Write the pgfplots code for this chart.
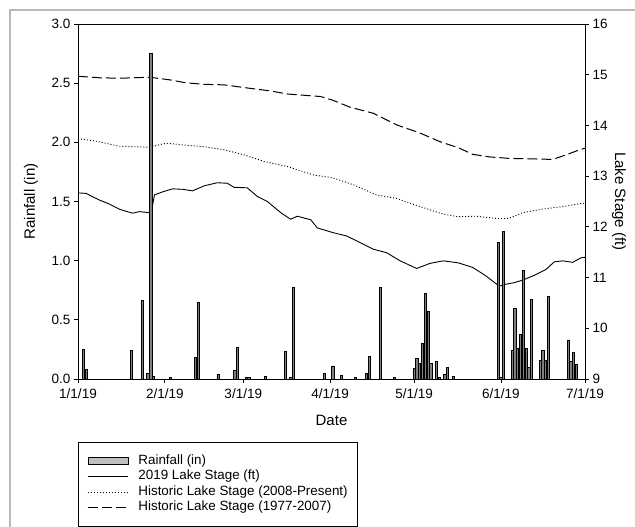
\documentclass[border=0pt]{standalone}
\usepackage{pgfplots}
\pgfplotsset{compat=1.18}
\usepackage{pgfplotstable}
\usepackage{fontspec}
\setmainfont{Liberation Sans}

\pgfplotstableread{
day rain
2 0.25
3 0.08
19 0.24
23 0.66
25 0.05
26 2.75
27 0.02
33 0.01
42 0.18
43 0.65
50 0.04
56 0.07
57 0.27
60 0.01
61 0.01
67 0.02
74 0.23
76 0.01
77 0.77
88 0.05
91 0.11
94 0.03
99 0.01
103 0.05
104 0.19
108 0.77
113 0.01
120 0.09
121 0.17
122 0.13
123 0.30
124 0.72
125 0.57
126 0.13
128 0.15
129 0.01
131 0.04
132 0.10
134 0.02
150 1.15
151 0.01
152 1.245
155 0.24
156 0.60
157 0.26
158 0.38
159 0.92
160 0.26
161 0.10
162 0.67
165 0.155
166 0.245
167 0.155
168 0.70
175 0.33
176 0.15
177 0.225
178 0.125
}\rain

\pgfplotstableread{
day stage
0 12.67
2.9 12.66
5 12.60
7.6 12.53
11.2 12.45
14.7 12.35
17 12.31
19.5 12.27
21.9 12.30
25.5 12.28
26.2 12.30
27.3 12.63
30.2 12.69
33.8 12.75
37.4 12.74
40.9 12.71
45.1 12.81
49.7 12.87
53.3 12.86
55.7 12.78
60.4 12.77
64 12.60
67.6 12.50
72.4 12.28
75.9 12.15
78.3 12.21
83.1 12.14
85.4 11.98
90.8 11.89
95.9 11.82
100.7 11.69
105.4 11.56
110.2 11.49
115 11.33
120.9 11.18
125.7 11.28
130.4 11.33
135.8 11.29
140.9 11.20
145.7 11.03
150.4 10.83
152.8 10.87
155.8 10.90
158.7 10.95
162.3 11.03
167.1 11.16
170 11.31
173 11.33
176.6 11.30
179.6 11.39
181 11.40
}\stagenew

\pgfplotstableread{
day stage
0 13.74
6.4 13.69
14.7 13.59
25.5 13.57
31.4 13.65
38.6 13.61
45.1 13.58
52.1 13.52
59.3 13.42
66.4 13.29
74.7 13.19
84.3 13.02
90.8 12.97
98.3 12.83
106.6 12.63
113.8 12.56
122.1 12.40
130.4 12.25
135.8 12.20
142.1 12.21
150.4 12.16
154 12.17
158.7 12.28
165.9 12.35
173 12.40
179.6 12.46
181 12.47
}\stagerecent

\pgfplotstableread{
day stage
0 14.97
7.6 14.94
14.7 14.93
25.5 14.95
32.6 14.90
38.6 14.84
45.1 14.81
52.1 14.80
61.6 14.73
68.8 14.68
74.7 14.62
86.6 14.57
90.8 14.50
97.1 14.36
105.4 14.24
113.8 14.01
122.1 13.85
129.2 13.68
135.8 13.56
140.9 13.43
146.8 13.38
154 13.35
162.3 13.34
169.5 13.33
174.2 13.42
179.6 13.53
181 13.55
}\stageold

\pgfplotsset{
  common/.style={
    scale only axis, width=507pt, height=355pt,
    at={(78pt,-379pt)}, anchor=south west,
    xmin=0, xmax=181,
    tick align=outside, major tick length=4pt,
    axis line style={line width=0.8pt},
    tick style={line width=0.8pt, black},
    tick label style={font=\fontsize{13.5}{16}\selectfont},
    /pgf/number format/assume math mode=true,
  }
}

\begin{document}
\begin{tikzpicture}[x=1pt,y=1pt]
\useasboundingbox (0,0) rectangle (635,-527);
\draw[gray!55, line width=1.5pt] (10,-530) -- (10,-10) -- (640,-10);

% right axis: lake stage
\begin{axis}[common,
  ymin=9, ymax=16, ytick={9,10,...,16},
  axis y line*=right, axis x line=none,
  ylabel={Lake Stage (ft)},
  every axis y label/.style={at={(axis description cs:1,0.5)}, rotate=-90, anchor=center, yshift=34pt, font=\fontsize{15}{18}\selectfont},
]
\addplot[black, line width=0.9pt] table[x=day,y=stage] {\stagenew};
\addplot[black, line width=0.9pt, dash pattern=on 1pt off 2pt] table[x=day,y=stage] {\stagerecent};
\addplot[black, line width=1pt, dash pattern=on 10pt off 4pt] table[x=day,y=stage] {\stageold};
\end{axis}

% left axis: rainfall
\begin{axis}[common,
  ymin=0, ymax=3, ytick={0,0.5,...,3},
  yticklabel style={/pgf/number format/.cd, fixed, fixed zerofill, precision=1},
  xtick={0,31,59,90,120,151,181},
  xticklabels={1/1/19,2/1/19,3/1/19,4/1/19,5/1/19,6/1/19,7/1/19},
  xticklabel style={yshift=-2pt},
  xtick pos=left, ytick pos=left,
  ylabel={Rainfall (in)}, xlabel={Date},
  every axis y label/.style={at={(axis description cs:0,0.5)}, rotate=90, anchor=center, yshift=47pt, font=\fontsize{15}{18}\selectfont},
  every axis x label/.style={at={(axis description cs:0.5,0)}, anchor=center, yshift=-41pt, font=\fontsize{15}{18}\selectfont},
  legend cell align=left,
  legend image code/.code={\draw[#1] (0pt,0pt) -- (40pt,0pt);},
  legend style={at={(0,0)}, anchor=north west, yshift=-63pt,
    draw=black, line width=0.8pt,
    font=\fontsize{13.4}{15.6}\selectfont,
    inner xsep=9pt, inner ysep=11pt, row sep=0pt,
    /tikz/every odd column/.append style={column sep=9pt},
    nodes={inner sep=1pt, text height=10pt, text depth=3.5pt}},
]
\addplot[ybar, bar width=0.8, fill=gray, draw=black, line width=0.85pt,
  legend image code/.code={\draw[black, fill=gray!50, line width=0.8pt] (0pt,-3.5pt) rectangle (40pt,3.5pt);}]
  table[x=day,y=rain] {\rain};
\addlegendentry{Rainfall (in)}
\addlegendimage{black, line width=0.9pt}
\addlegendentry{2019 Lake Stage (ft)}
\addlegendimage{black, line width=0.9pt, dash pattern=on 1pt off 2pt}
\addlegendentry{Historic Lake Stage (2008-Present)\hspace{10pt}}
\addlegendimage{black, line width=1pt, dash pattern=on 10pt off 4pt}
\addlegendentry{Historic Lake Stage (1977-2007)}
\end{axis}
\end{tikzpicture}
\end{document}
